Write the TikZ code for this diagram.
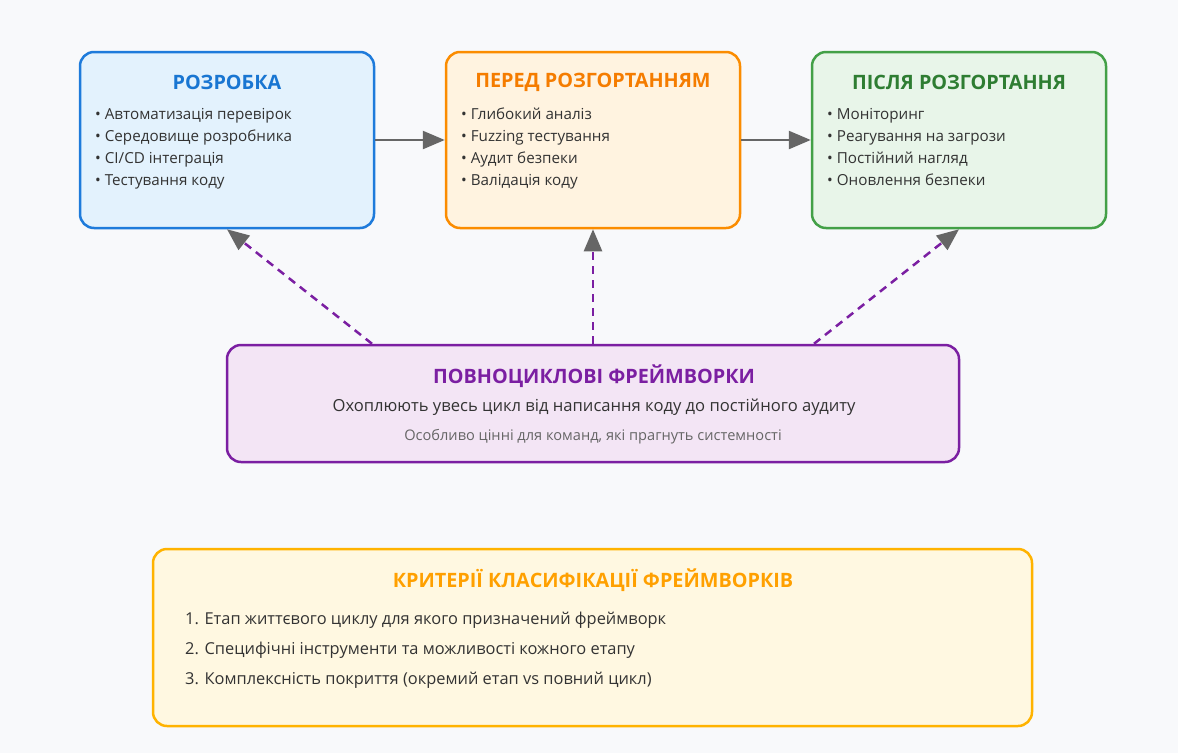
\documentclass[tikz,border=0pt]{standalone}
\usepackage{fontspec}
\setmainfont{Open Sans}
\usepackage{tikz}
\usetikzlibrary{arrows.meta}

\definecolor{bgcol}{HTML}{F8F9FB}
\definecolor{txtcol}{HTML}{333333}
\definecolor{notecol}{HTML}{666666}
\definecolor{arrcol}{HTML}{666666}
\definecolor{devline}{HTML}{1E7BDB}
\definecolor{devfill}{HTML}{E3F2FD}
\definecolor{devtitle}{HTML}{1976D2}
\definecolor{preline}{HTML}{FB8C00}
\definecolor{prefill}{HTML}{FFF3E0}
\definecolor{pretitle}{HTML}{F57C00}
\definecolor{postline}{HTML}{43A047}
\definecolor{postfill}{HTML}{E8F5E9}
\definecolor{posttitle}{HTML}{2E7D32}
\definecolor{fullline}{HTML}{7B1FA2}
\definecolor{fullfill}{HTML}{F3E5F5}
\definecolor{critline}{HTML}{FFB300}
\definecolor{critfill}{HTML}{FFF8E1}
\definecolor{crittitle}{HTML}{FFA000}

\tikzset{
  stagebox/.style={rectangle, rounded corners=14pt, line width=2.5pt,
    minimum width=294pt, minimum height=176pt, inner sep=0pt},
  titletext/.style={font=\fontsize{19.8}{24}\selectfont\bfseries, inner sep=0pt},
  itemtext/.style={font=\fontsize{15.2}{18}\selectfont, text=txtcol, anchor=base west, inner sep=0pt},
  flowarrow/.style={draw=arrcol, line width=2.5pt,
    -{Triangle[length=22pt, width=18pt]}},
  linkarrow/.style={draw=fullline, line width=2.5pt, dash pattern=on 8pt off 6pt,
    -{Triangle[length=22pt, width=18pt, color=arrcol]}}
}

\begin{document}
\begin{tikzpicture}[x=1pt, y=-1pt]

		% Background
		\fill[bgcol] (0,0) rectangle (1178,753);

		% Stage 1: development
		\node[stagebox, draw=devline, fill=devfill] (dev) at (227,140) {};
		\node[titletext, text=devtitle] (devhead) at (227,82) {РОЗРОБКА};
		\foreach \t [count=\i] in {Автоматизація перевірок, Середовище розробника, CI/CD інтеграція, Тестування коду} {
				\node[itemtext] (dev\i) at (95, 119+22*\i-22) {• \t};
			}

		% Stage 2: pre-deployment
		\node[stagebox, draw=preline, fill=prefill] (pre) at (593,140) {};
		\node[titletext, text=pretitle] (prehead) at (593,82) {ПЕРЕД РОЗГОРТАННЯМ};
		\foreach \t [count=\i] in {Глибокий аналіз, Fuzzing тестування, Аудит безпеки, Валідація коду} {
				\node[itemtext] (pre\i) at (461, 119+22*\i-22) {• \t};
			}

		% Stage 3: post-deployment
		\node[stagebox, draw=postline, fill=postfill] (post) at (959,140) {};
		\node[titletext, text=posttitle] (posthead) at (959,82) {ПІСЛЯ РОЗГОРТАННЯ};
		\foreach \t [count=\i] in {Моніторинг, Реагування на загрози, Постійний нагляд, Оновлення безпеки} {
				\node[itemtext] (post\i) at (827, 119+22*\i-22) {• \t};
			}

		% Full-cycle frameworks
		\node[stagebox, draw=fullline, fill=fullfill, minimum width=732pt, minimum height=117pt] (full) at (593,403.5) {};
		\node[titletext, text=fullline] (fullhead) at (594,376) {ПОВНОЦИКЛОВІ ФРЕЙМВОРКИ};
		\node[itemtext, anchor=center, font=\fontsize{16.6}{20}\selectfont] (fulltext) at (594,407) {Охоплюють увесь цикл від написання коду до постійного аудиту};
		\node[itemtext, anchor=center, text=notecol, font=\fontsize{14.6}{18}\selectfont] (fullnote) at (593,437) {Особливо цінні для команд, які прагнуть системності};

		% Classification criteria
		\node[stagebox, draw=critline, fill=critfill, minimum width=879pt, minimum height=177pt] (crit) at (592.5,637.5) {};
		\node[titletext, text=crittitle] (crithead) at (593,580) {КРИТЕРІЇ КЛАСИФІКАЦІЇ ФРЕЙМВОРКІВ};
		\node[itemtext, font=\fontsize{16.4}{20}\selectfont] (crit1) at (185,624) {1. Етап життєвого циклу для якого призначений фреймворк};
		\node[itemtext, font=\fontsize{16.4}{20}\selectfont] (crit2) at (185,654) {2. Специфічні інструменти та можливості кожного етапу};
		\node[itemtext, font=\fontsize{16.4}{20}\selectfont] (crit3) at (185,684) {3. Комплексність покриття (окремий етап vs повний цикл)};

		% --- Connectors ---
		\draw[flowarrow] (dev.east) -- (pre.west);
		\draw[flowarrow] (pre.east) -- (post.west);

		\draw[linkarrow] ([xshift=-221pt]full.north) -- (dev.south);
		\draw[linkarrow] (full.north) -- (pre.south);
		\draw[linkarrow] ([xshift=221pt]full.north) -- (post.south);

	\end{tikzpicture}
\end{document}
